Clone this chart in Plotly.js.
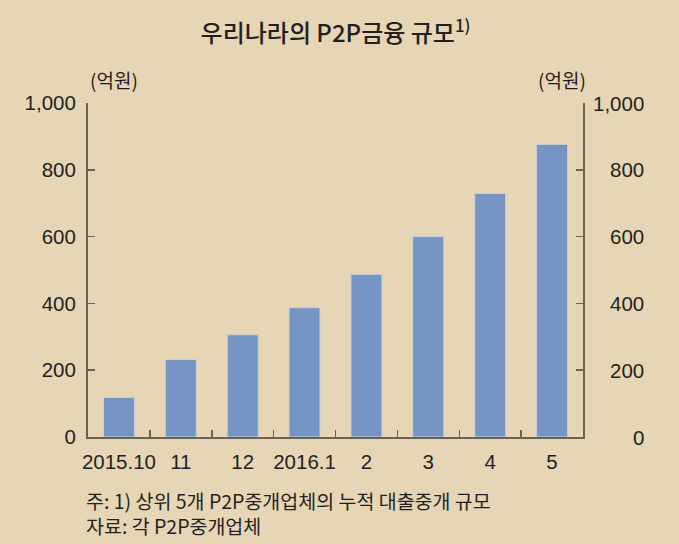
<!DOCTYPE html>
<html>
<head>
<meta charset="utf-8">
<script src="https://cdn.plot.ly/plotly-3.0.1.min.js"></script>
<style>html,body{margin:0;padding:0;background:#e6d6b5;}</style>
</head>
<body>
<div id="chart" style="width:679px;height:544px;"></div>
<script>
const categories = ["2015.10", "11", "12", "2016.1", "2", "3", "4", "5"];
const values = [118, 232, 306, 387, 487, 600, 729, 876];
const yTicks = [0, 200, 400, 600, 800, 1000];
const yTickLabels = ["0", "200", "400", "600", "800", "1,000"];

const NUM_FONT = "'Liberation Sans', Arial, sans-serif";
const KR_FONT = "'Noto Sans CJK KR', sans-serif";
const TXT = "#231f20";
const AX = "#6b6254";
const BG = "#e6d6b5";
const numFont = { family: NUM_FONT, size: 20.5, color: TXT };

const trace = {
  type: "bar",
  x: categories,
  y: values,
  width: 0.5,
  marker: { color: "#7594c4", line: { color: "#c9cfd6", width: 1 } },
  hoverinfo: "x+y"
};
const trace2 = {
  type: "bar", x: categories, y: values, yaxis: "y2",
  marker: { color: "rgba(0,0,0,0)" }, hoverinfo: "skip", showlegend: false, width: 0.5
};

const annotations = [
  { text: "(억원)", xref: "paper", yref: "paper", x: 0, y: 1.069, xanchor: "left", yanchor: "middle", showarrow: false, font: { family: KR_FONT, size: 19, color: TXT } },
  { text: "(억원)", xref: "paper", yref: "paper", x: 1.01, y: 1.069, xanchor: "right", yanchor: "middle", showarrow: false, font: { family: KR_FONT, size: 19, color: TXT } },
  { text: "주: 1) 상위 5개 P2P중개업체의 누적 대출중개 규모<br>자료: 각 P2P중개업체", xref: "paper", yref: "paper", x: -0.008, y: -0.2275, xanchor: "left", yanchor: "middle", align: "left", showarrow: false, font: { family: KR_FONT, size: 19.5, color: TXT } }
];
yTicks.forEach((v, i) => {
  annotations.push({ text: yTickLabels[i], xref: "paper", yref: "y", x: 1.128, y: v, xanchor: "right", yanchor: "middle", showarrow: false, font: numFont });
});

const layout = {
  width: 679, height: 544,
  paper_bgcolor: BG, plot_bgcolor: BG,
  margin: { l: 88, r: 96, t: 103, b: 107 },
  showlegend: false,
  bargap: 0.5,
  title: { text: "우리나라의 P2P금융 규모<sup>1)</sup>", x: 0.5, xref: "paper", xanchor: "center", y: 0.9375, yanchor: "middle", font: { family: KR_FONT, size: 24, color: TXT, weight: 500 } },
  xaxis: {
    type: "category", range: [-0.5, 7.5],
    showline: true, linecolor: AX, linewidth: 2,
    ticks: "inside", tickson: "boundaries", ticklen: 7, tickwidth: 1.5, tickcolor: AX,
    tickfont: numFont, tickangle: 0,
    ticklabelstandoff: 5,
    showgrid: false, zeroline: false, fixedrange: true
  },
  yaxis: {
    range: [0, 1000], tickvals: yTicks, ticktext: yTickLabels,
    showline: true, linecolor: AX, linewidth: 2,
    ticks: "inside", ticklen: 7, tickwidth: 1.5, tickcolor: AX,
    tickfont: numFont,
    ticklabelstandoff: 6,
    showgrid: false, zeroline: false, fixedrange: true
  },
  yaxis2: {
    overlaying: "y", side: "right", range: [0, 1000], tickvals: yTicks,
    showline: true, linecolor: AX, linewidth: 2,
    ticks: "inside", ticklen: 7, tickwidth: 1.5, tickcolor: AX,
    showticklabels: false, showgrid: false, zeroline: false, fixedrange: true
  },
  annotations: annotations
};

Plotly.newPlot("chart", [trace, trace2], layout, { displayModeBar: false, staticPlot: true });
</script>
</body>
</html>
